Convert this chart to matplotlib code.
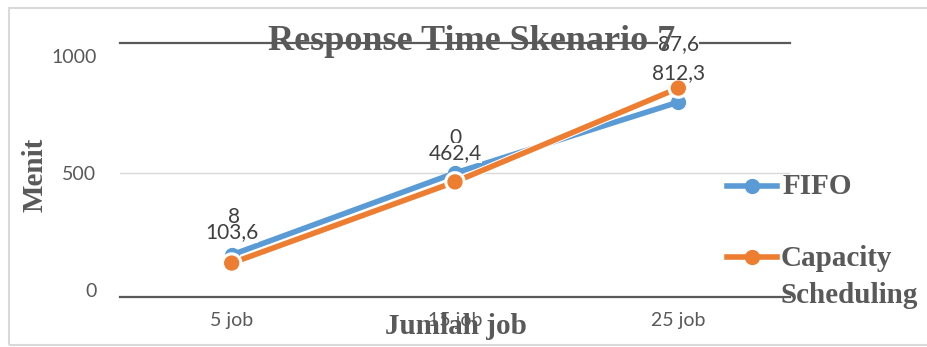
import matplotlib
matplotlib.use('Agg')
import matplotlib.pyplot as plt
from matplotlib.lines import Line2D
from matplotlib.patches import Rectangle
import matplotlib.patheffects as pe

kategori = ['5 job', '15 job', '25 job']
fifo = [150, 500, 803]
capacity = [115, 462, 863]
label_fifo = ['8', '0', '812,3']
label_capacity = ['103,6', '462,4', '87,6']

biru = '#5B9BD5'
oranye = '#ED7D31'
abu = '#595959'
serif = 'Liberation Serif'
sans = 'Lato'

W, H = 927, 347
fig = plt.figure(figsize=(W / 100, H / 100), dpi=100)
ax = fig.add_axes([120 / W, 1 - 297 / H, 670 / W, 254 / H])

x = range(len(kategori))
ax.plot(x, fifo, color=biru, lw=4, marker='o', ms=10, zorder=3)
ax.plot(x, capacity, color=oranye, lw=4, marker='o', ms=10, zorder=4,
        path_effects=[pe.Stroke(linewidth=5.5, foreground='white'), pe.Normal()])

ax.set_xlim(-0.5, 2.5)
ax.set_ylim(-30, 1055.6)
ax.axhline(500, color='#D9D9D9', lw=1, zorder=1)

# label data (posisi seperti di gambar, sebagian tertutup)
off_f = [(2, 27), (0, 25), (0, 21)]
for i, t in enumerate(label_fifo):
    ax.annotate(t, (i, fifo[i]), xytext=off_f[i], textcoords='offset points',
                ha='center', va='center', fontsize=15, family=sans, color='#404040', zorder=5)
off_c = [22, 21, 32]
for i, t in enumerate(label_capacity):
    ax.annotate(t, (i, capacity[i]), xytext=(0, off_c[i]), textcoords='offset points',
                ha='center', va='center', fontsize=15, family=sans, color='#404040', zorder=6,
                bbox=dict(boxstyle='square,pad=0.0', fc='white', ec='none'))

ax.set_xticks(list(x))
ax.set_xticklabels(kategori, family=sans, fontsize=14, color=abu)
ax.set_yticks([0, 500, 1000])
ax.set_yticklabels(['0', '500', '1000'], family=sans, fontsize=14, color=abu)
ax.tick_params(axis='both', length=0)
ax.tick_params(axis='y', pad=17)
ax.tick_params(axis='x', pad=11)
for s in ['left', 'right']:
    ax.spines[s].set_visible(False)
for s in ['top', 'bottom']:
    ax.spines[s].set_color(abu)
    ax.spines[s].set_linewidth(1.6)

fig.text(35 / W, 1 - 175 / H, 'Menit', rotation=90, ha='center', va='center',
         family=serif, fontweight='bold', fontsize=21, color=abu)
fig.text(456 / W, 1 - 327 / H, 'Jumlah job', ha='center', va='center',
         family=serif, fontweight='bold', fontsize=21, color=abu)
fig.text(472 / W, 1 - 42 / H, 'Response Time Skenario 7', ha='center', va='center',
         family=serif, fontweight='bold', fontsize=26, color=abu, zorder=10)

# legenda
for yy, c in [(186, biru), (257, oranye)]:
    fig.add_artist(Line2D([727 / W, 777 / W], [1 - yy / H] * 2, color=c, lw=4,
                          transform=fig.transFigure))
    fig.add_artist(Line2D([752 / W], [1 - yy / H], color=c, marker='o', ms=10,
                          transform=fig.transFigure))
fig.text(783 / W, 1 - 187 / H, 'FIFO', ha='left', va='center',
         family=serif, fontweight='bold', fontsize=21, color=abu)
fig.text(781 / W, 1 - 277 / H, 'Capacity\nScheduling', ha='left', va='center',
         family=serif, fontweight='bold', fontsize=21, color=abu, linespacing=1.5)

fig.add_artist(Rectangle((9 / W, 1 - 345 / H), 1.0, 1 - 8 / H - (1 - 345 / H),
                         transform=fig.transFigure, fill=False, ec='#D9D9D9', lw=1.5))

fig.savefig('out.png', dpi=100)
